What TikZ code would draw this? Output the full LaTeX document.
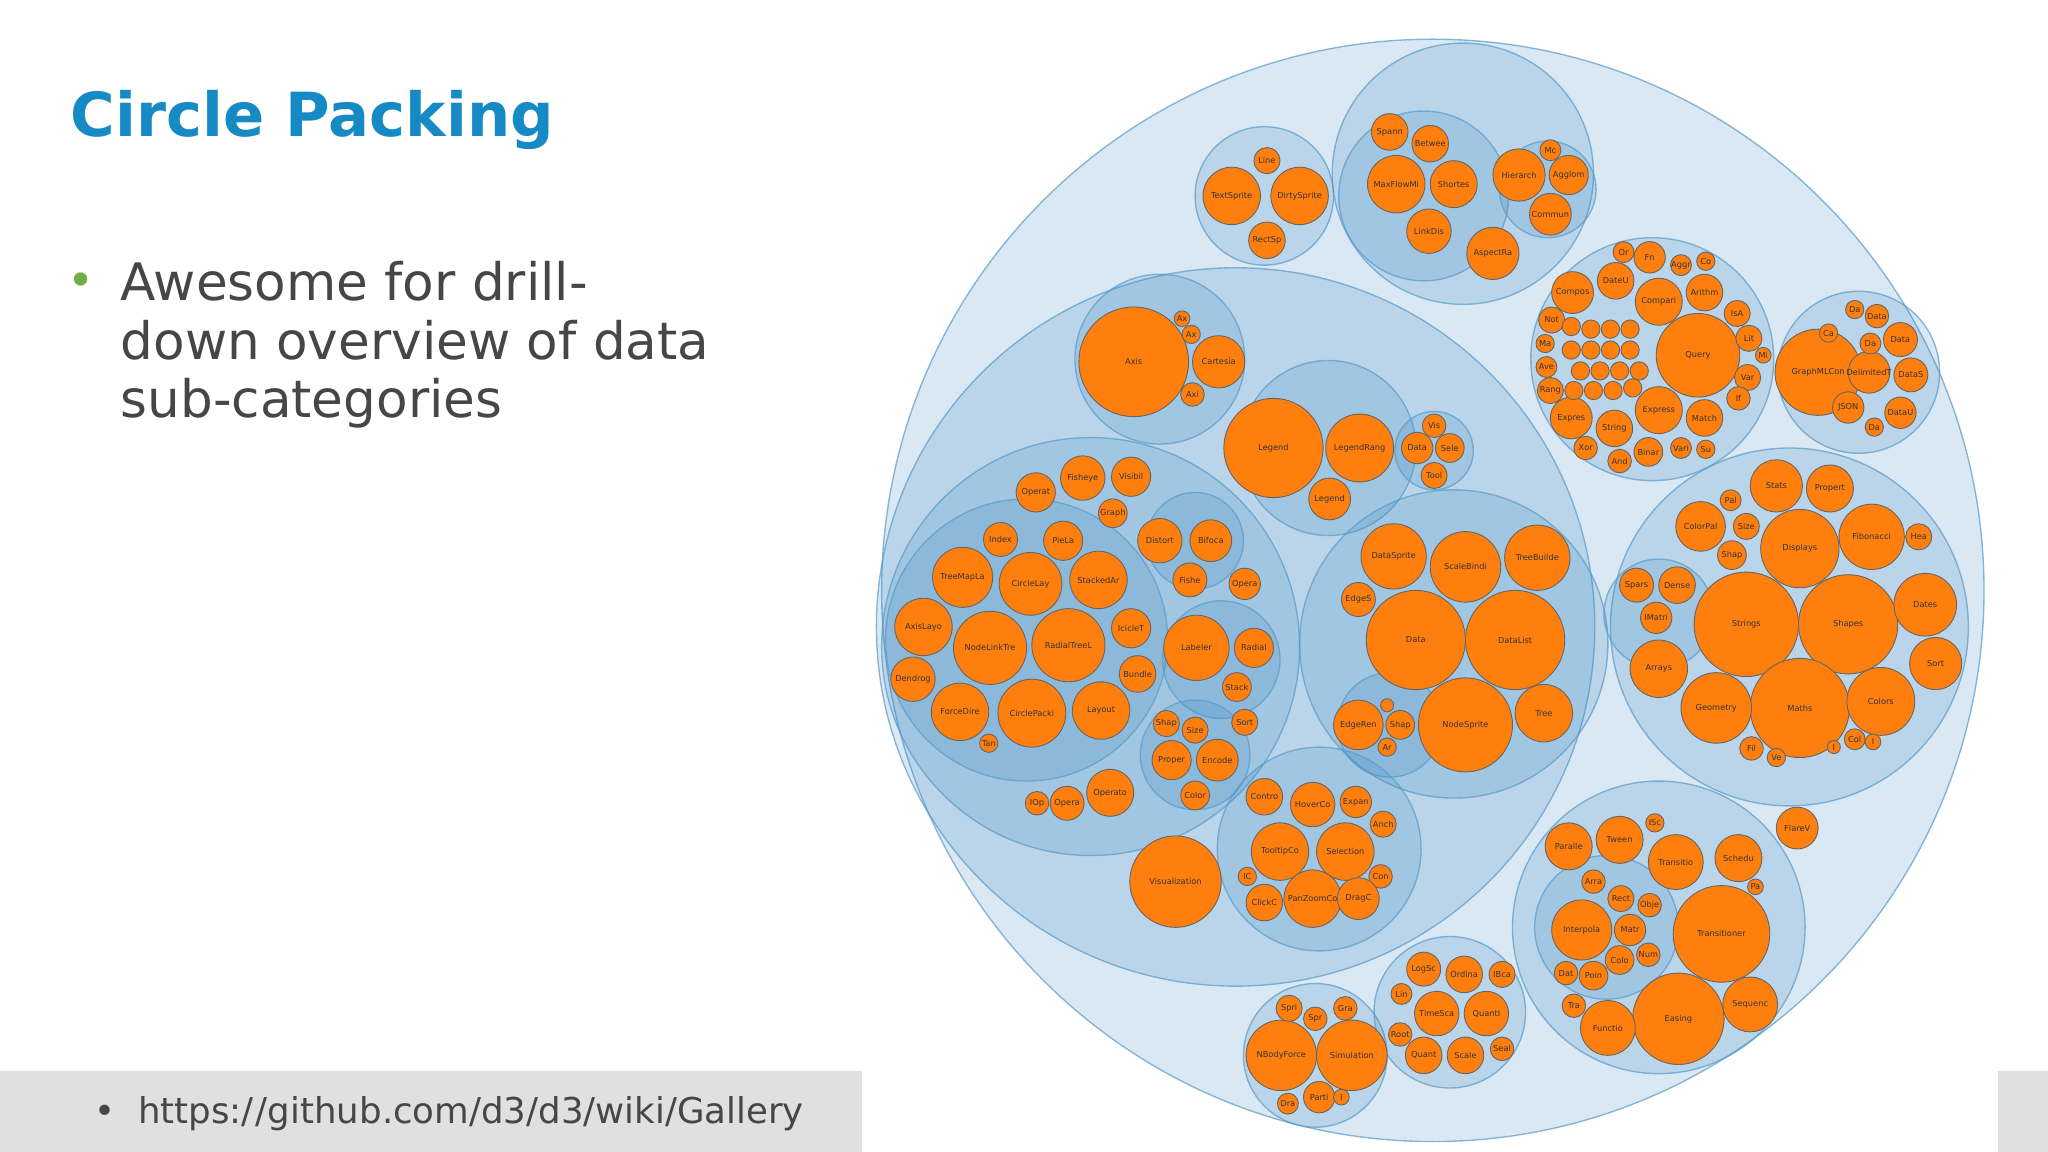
\documentclass[tikz,border=0pt]{standalone}
\usepackage{fontspec}
\setmainfont{DejaVu Sans}
\definecolor{ttl}{RGB}{22,138,196}
\definecolor{gtx}{RGB}{70,70,70}
\definecolor{d3b}{RGB}{49,130,189}
\definecolor{d3o}{RGB}{255,127,14}
\definecolor{bul}{RGB}{112,173,71}
\tikzset{
 grp/.style={fill=d3b,fill opacity=0.18,draw=d3b!80,draw opacity=0.7,line width=0.6pt},
 orb/.style={fill=d3o,draw=black!60,line width=0.4pt},
 olab/.style={font=\fontsize{3.6}{4}\selectfont,text=black!80,inner sep=0pt}
}
\begin{document}
\begin{tikzpicture}[x=0.02cm,y=-0.02cm]
\useasboundingbox (0,0) rectangle (1568,882);
\fill[white] (0,0) rectangle (1568,882);
% bottom band
\fill[black!12] (0,820) rectangle (660,882);
\fill[black!12] (1530,820) rectangle (1568,882);
\node[anchor=west,text=ttl,font=\bfseries\fontsize{26.5}{30}\selectfont,inner sep=0pt] (title) at (54,92) {Circle Packing};
\node[text=bul,font=\fontsize{20}{24}\selectfont,inner sep=0pt] (b1) at (62,218) {•};
\node[anchor=north west,text=gtx,font=\fontsize{22.5}{25.5}\selectfont,align=left,inner sep=0pt] (bt) at (92,200) {Awesome for drill-\\down overview of data\\sub-categories};
\node[anchor=west,text=gtx,font=\fontsize{15.5}{18}\selectfont,inner sep=0pt] (url) at (72,853) {•\ \ https:/\kern1pt/github.com/d3/d3/wiki/Gallery};
% groups
\foreach \x/\y/\r in {1097/452/422, 968/150/53, 1120/133/100, 1090/150/65, 1185/145/37, 1265/275/93, 1423/285/62,
 946/480/275, 888/275/65, 1017/343/67, 1098/345/30, 835/495/160, 786/490/108, 915/414/37, 935/505/45, 915/578/42,
 1113/493/118, 1064/555/40, 1010/650/78, 1370/480/137, 1270/470/42, 1270/710/112, 1230/710/55, 1007/808/55, 1110/775/58}
  \draw[grp] (\x,\y) circle[radius=\r*0.02cm];
% orange leaves
\foreach \x/\y/\r/\t in {
970/123/10/Line, 943/150/22/TextSprite, 995/150/22/DirtySprite, 970/184/14/RectSp,
1064/101/14/Spann, 1095/110/14/Betwee, 1069/141/22/MaxFlowMi, 1113/141/18/Shortes, 1094/177/17/LinkDis, 1143/194/20/AspectRa,
1163/134/20/Hierarch, 1201/134/15/Agglom, 1187/115/8/Mc, 1187/164/16/Commun,
1300/272/32/Query, 1270/231/18/Compari, 1305/224/14/Arithm, 1237/215/14/DateU, 1263/197/12/Fn, 1287/203/8/Aggr, 1243/193/8/Or, 1306/200/7/Co,
1204/224/16/Compos, 1330/240/10/IsA, 1339/259/10/Lit, 1350/272/6/Mi, 1338/289/10/Var, 1331/305/9/If, 1305/320/14/Match, 1270/314/18/Express,
1236/328/14/String, 1203/320/16/Expres, 1214/343/9/Xor, 1240/353/9/And, 1262/346/11/Binar, 1287/343/8/Vari, 1306/344/7/Su,
1188/245/10/Not, 1183/263/7/Ma, 1184/281/8/Ave, 1187/299/10/Rang,
1203/250/7/{}, 1218/252/7/{}, 1233/252/7/{}, 1248/252/7/{}, 1203/268/7/{}, 1218/268/7/{}, 1233/268/7/{}, 1248/268/7/{}, 1210/284/7/{}, 1225/284/7/{}, 1240/284/7/{}, 1255/284/7/{}, 1205/299/7/{}, 1220/299/7/{}, 1235/299/7/{}, 1250/297/7/{},
1392/285/33/GraphMLCon, 1431/285/16/DelimitedT, 1463/287/13/DataS, 1455/260/13/Data, 1432/263/8/Da, 1420/237/7/Da, 1437/242/9/Data, 1400/255/7/Ca, 1415/312/12/JSON, 1455/316/12/DataU, 1435/327/7/Da,
868/277/42/Axis, 933/277/20/Cartesia, 905/244/6/Ax, 912/256/7/Ax, 913/302/9/Axi,
975/343/38/Legend, 1041/343/26/LegendRang, 1018/382/16/Legend, 1098/326/9/Vis, 1085/343/12/Data, 1110/343/11/Sele, 1098/364/10/Tool,
829/366/17/Fisheye, 866/365/15/Visibil, 852/393/11/Graph, 793/377/15/Operat, 766/413/13/Index, 814/414/15/PieLa, 737/442/23/TreeMapLa,
789/447/24/CircleLay, 841/444/22/StackedAr, 707/480/22/AxisLayo, 758/496/28/NodeLinkTre, 818/494/28/RadialTreeL, 866/481/15/IcicleT,
699/520/17/Dendrog, 871/516/14/Bundle, 735/545/22/ForceDire, 790/546/26/CirclePacki, 843/544/22/Layout, 757/569/7/Tan,
794/615/9/IOp, 817/615/13/Opera, 850/607/18/Operato,
888/414/17/Distort, 927/414/16/Bifoca, 911/444/13/Fishe, 953/447/12/Opera, 916/496/25/Labeler, 960/496/15/Radial, 947/526/11/Stack,
893/554/10/Shap, 915/559/10/Size, 953/553/10/Sort, 897/582/15/Proper, 932/582/16/Encode, 915/609/11/Color,
1067/426/25/DataSprite, 1122/434/27/ScaleBindi, 1177/427/25/TreeBuilde, 1040/459/13/EdgeS, 1084/490/38/Data, 1160/490/38/DataList,
1122/555/36/NodeSprite, 1182/546/22/Tree, 1040/555/19/EdgeRen, 1072/555/11/Shap, 1062/572/7/Ar, 1062/540/5/{},
968/610/14/Contro, 1005/616/17/HoverCo, 1038/614/12/Expan, 1059/631/10/Anch, 980/652/22/TooltipCo, 1030/652/22/Selection, 1057/671/9/Con,
955/671/7/IC, 968/691/14/ClickC, 1005/688/22/PanZoomCo, 1040/688/16/DragC, 900/675/35/Visualization,
1337/478/40/Strings, 1415/478/38/Shapes, 1378/542/38/Maths, 1314/542/27/Geometry, 1378/420/30/Displays, 1360/372/20/Stats, 1401/374/18/Propert,
1433/411/25/Fibonacci, 1469/411/10/Hea, 1302/403/19/ColorPal, 1337/403/10/Size, 1325/383/8/Pal, 1326/425/11/Shap, 1253/448/13/Spars,
1284/448/14/Dense, 1268/473/12/IMatri, 1270/512/22/Arrays, 1474/463/24/Dates, 1482/508/20/Sort, 1440/537/26/Colors, 1341/573/9/Fil,
1360/580/7/Ve, 1420/566/8/Col, 1434/568/6/I, 1404/572/5/I,
1318/715/37/Transitioner, 1283/660/21/Transitio, 1331/657/18/Schedu, 1344/679/6/Pa, 1285/780/35/Easing, 1340/769/21/Sequenc,
1231/787/21/Functio, 1205/770/9/Tra, 1201/648/18/Paralle, 1240/643/18/Tween, 1267/630/7/ISc, 1220/675/9/Arra, 1241/688/10/Rect,
1263/693/9/Obje, 1211/712/23/Interpola, 1248/712/12/Matr, 1240/735/11/Colo, 1262/731/9/Num, 1199/745/9/Dat, 1220/747/11/Poin,
981/808/27/NBodyForce, 1035/808/27/Simulation, 987/772/10/Spri, 1007/780/9/Spr, 1030/772/9/Gra, 1010/840/12/Parti, 986/845/8/Dra, 1027/840/6/I,
1090/742/13/LogSc, 1121/746/14/Ordina, 1150/746/10/IBca, 1073/761/8/Lin, 1100/776/17/TimeSca, 1138/776/17/QuantI, 1072/792/9/Root,
1090/808/14/Quant, 1122/808/14/Scale, 1150/803/9/Seal,
1376/634/16/FlareV}
{
  \draw[orb] (\x,\y) circle[radius=\r*0.02cm];
  \node[olab] at (\x,\y) {\t};
}
\end{tikzpicture}
\end{document}
